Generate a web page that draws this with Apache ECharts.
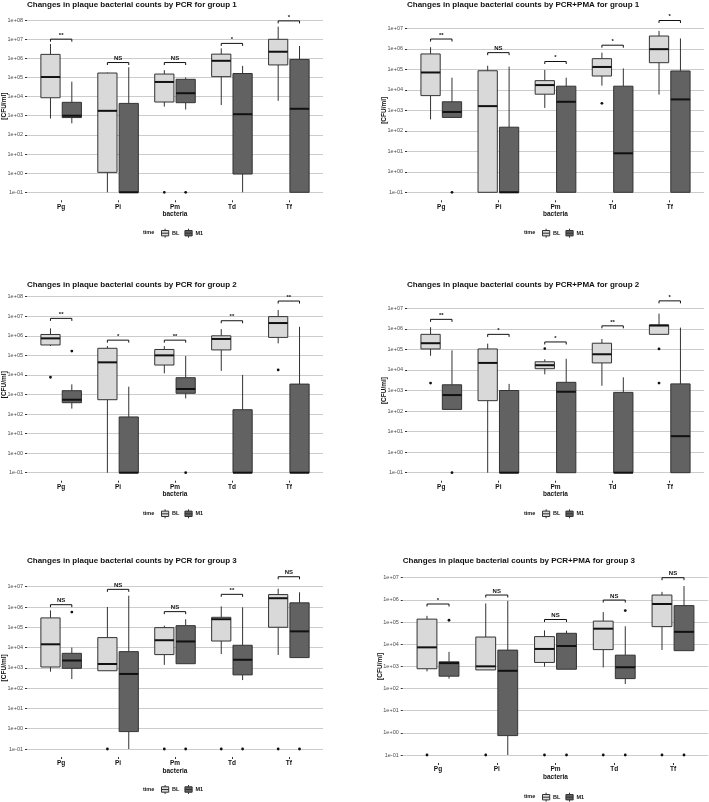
<!DOCTYPE html>
<html><head><meta charset="utf-8">
<script src="https://cdn.jsdelivr.net/npm/echarts@6/dist/echarts.min.js"></script>
<style>html,body{margin:0;padding:0;background:#fff}#chart{width:709px;height:802px}</style>
</head><body><div id="chart"></div>
<script>
// ---------------- data ----------------
const categories = ['Pg', 'Pi', 'Pm', 'Td', 'Tf'];
const timeLevels = ['BL', 'M1'];
const panelTitles = [
  'Changes in plaque bacterial counts by PCR for group 1',
  'Changes in plaque bacterial counts by PCR+PMA for group 1',
  'Changes in plaque bacterial counts by PCR for group 2',
  'Changes in plaque bacterial counts by PCR+PMA for group 2',
  'Changes in plaque bacterial counts by PCR for group 3',
  'Changes in plaque bacterial counts by PCR+PMA for group 3'
];
const yAxisTitle = '[CFU/ml]';
const xAxisTitle = 'bacteria';
const legendTitle = 'time';

// box statistics per category: [min(whisker), Q1, median, Q3, max(whisker)]
const pcrG1BL = [[720, 8700, 1.05e5, 1.6e6, 5.6e6], [0.1, 1.1, 1800, 1.7e5, 1.8e5], [3000, 5200, 5.8e4, 1.5e5, 2.4e5], [3600, 1.1e5, 7.4e5, 1.65e6, 3.3e6], [6000, 4.5e5, 2.2e6, 9.8e6, 4.5e7]];
const pcrG1M1 = [[400, 800, 1000, 5000, 6e4], [0.1, 0.1, 0.1, 4400, 3.4e5], [2100, 4800, 1.5e4, 8e4, 1e5], [0.1, 0.9, 1200, 1.6e5, 4e5], [0.1, 0.1, 2300, 8.7e5, 4.4e6]];
const pcrG1Out = [[2, 0, 0.1], [2, 1, 0.1]]; // [category, time, value]
const pcrG1SigY = [1e7, 6e5, 6e5, 6e6, 9e7];
const pcrG1Sig = ['**', 'NS', 'NS', '*', '*'];

const pmaG1BL = [[360, 5200, 7e4, 5.6e5, 1.2e6], [0.1, 0.1, 1600, 8.5e4, 1.5e5], [1300, 6100, 1.7e4, 2.8e4, 9.3e4], [1.6e4, 4.7e4, 1.3e5, 3.3e5, 6.5e5], [5800, 2.1e5, 9.6e5, 4.2e6, 7.4e6]];
const pmaG1M1 = [[420, 450, 830, 2600, 3.9e4], [0.1, 0.1, 0.1, 150, 1.35e5], [0.1, 0.1, 2600, 1.5e4, 3.9e4], [0.1, 0.1, 8, 1.5e4, 1.1e5], [0.1, 0.1, 3400, 8.3e4, 3.2e6]];
const pmaG1Out = [[0, 1, 0.1], [3, 0, 2200]];
const pmaG1SigY = [3e6, 6.5e5, 2.4e5, 1.5e6, 2.4e7];
const pmaG1Sig = ['**', 'NS', '*', '*', '*'];

const pcrG2BL = [[3e5, 3.4e5, 7.4e5, 1.17e6, 2.4e6], [0.1, 540, 4.4e4, 2.3e5, 3e5], [1.2e4, 3.2e4, 1e5, 2e5, 3e5], [1.6e4, 1.9e5, 6.9e5, 1e6, 2.2e6], [4.1e5, 8.3e5, 4.5e6, 9.6e6, 2.1e7]];
const pcrG2M1 = [[190, 380, 540, 1560, 3300], [0.1, 0.1, 0.1, 71, 2500], [630, 1150, 1900, 7200, 9.3e4], [0.1, 0.1, 0.1, 166, 1e4], [0.1, 0.1, 0.1, 3400, 2.9e6]];
const pcrG2Out = [[0, 0, 7600], [0, 1, 1.65e5], [2, 1, 0.1], [4, 0, 1.8e4]];
const pcrG2SigY = [7.8e6, 6e5, 6e5, 5.9e6, 6e7];
const pcrG2Sig = ['**', '*', '**', '**', '**'];

const pmaG2BL = [[4.9e4, 1.05e5, 2e5, 5.4e5, 1.2e6], [0.1, 320, 2.2e4, 1.05e5, 1.9e5], [6100, 1.15e4, 1.7e4, 2.5e4, 3.3e4], [1700, 2.2e4, 5.8e4, 2e5, 3.2e5], [5.4e5, 5.4e5, 1.45e6, 1.55e6, 5.5e6]];
const pmaG2M1 = [[120, 120, 600, 1900, 9e4], [0.1, 0.1, 0.1, 1000, 2100], [0.1, 0.1, 870, 2500, 3.5e4], [0.1, 0.1, 0.1, 810, 4400], [0.1, 0.1, 6, 2100, 1.15e6]];
const pmaG2Out = [[0, 0, 2300], [0, 1, 0.1], [2, 0, 1.1e5], [4, 0, 1.05e5], [4, 0, 2300]];
const pmaG2SigY = [2.9e6, 5.4e5, 2.3e5, 1.4e6, 2.3e7];
const pmaG2Sig = ['**', '*', '*', '**', '*'];

const pcrG3BL = [[650, 1100, 1.45e4, 2.9e5, 6.8e5], [720, 720, 1550, 3.1e4, 1e6], [1400, 4500, 2.3e4, 9.6e4, 1.2e5], [4800, 2.1e4, 2.5e5, 3.1e5, 1.07e6], [4300, 1e5, 2.7e6, 4.1e6, 8e6]];
const pcrG3M1 = [[280, 950, 2300, 5200, 1e4], [0.1, 0.72, 500, 6300, 3.6e6], [1600, 1600, 2e4, 1.2e5, 2.5e5], [250, 450, 2500, 1.3e4, 9.6e5], [3200, 3200, 6.3e4, 1.6e6, 5.3e6]];
const pcrG3Out = [[0, 1, 5.6e5], [1, 0, 0.1], [2, 0, 0.1], [2, 1, 0.1], [3, 0, 0.1], [3, 1, 0.1], [4, 0, 0.1], [4, 1, 0.1]];
const pcrG3SigY = [1.3e6, 7.4e6, 5.9e5, 4.2e6, 3.1e7];
const pcrG3Sig = ['NS', 'NS', 'NS', '**', 'NS'];

const pmaG3BL = [[590, 780, 7200, 1.35e5, 1.9e5], [690, 690, 1000, 2.1e4, 6.9e5], [970, 1500, 6100, 2.2e4, 4.2e4], [890, 5700, 5e4, 1.1e5, 2.8e5], [5500, 6.2e4, 6.5e5, 1.65e6, 2.3e6]];
const pmaG3M1 = [[280, 360, 1400, 1600, 4500], [0.1, 0.75, 630, 5400, 9e5], [740, 740, 8300, 3.1e4, 4.1e4], [160, 280, 910, 3200, 6.4e4], [5100, 5100, 3.6e4, 5.5e5, 4.2e6]];
const pmaG3Out = [[0, 0, 0.1], [0, 1, 1.2e5], [1, 0, 0.1], [2, 0, 0.1], [2, 1, 0.1], [3, 0, 0.1], [3, 1, 3.3e5], [3, 1, 0.1], [4, 0, 0.1], [4, 1, 0.1]];
const pmaG3SigY = [6.5e5, 1.65e6, 1.3e5, 9.8e5, 1e7];
const pmaG3Sig = ['*', 'NS', 'NS', 'NS', 'NS'];

const panelBL = [pcrG1BL, pmaG1BL, pcrG2BL, pmaG2BL, pcrG3BL, pmaG3BL];
const panelM1 = [pcrG1M1, pmaG1M1, pcrG2M1, pmaG2M1, pcrG3M1, pmaG3M1];
const panelOut = [pcrG1Out, pmaG1Out, pcrG2Out, pmaG2Out, pcrG3Out, pmaG3Out];
const panelSigY = [pcrG1SigY, pmaG1SigY, pcrG2SigY, pmaG2SigY, pcrG3SigY, pmaG3SigY];
const panelSig = [pcrG1Sig, pmaG1Sig, pcrG2Sig, pmaG2Sig, pcrG3Sig, pmaG3Sig];
const panelYMax = [1e8, 1e7, 1e8, 1e7, 1e7, 1e7];

// ---------------- layout & style ----------------
const FONT = "'Liberation Sans', Arial, Helvetica, sans-serif";
const layout = [
  { left: 27, width: 296, top: 20, height: 172.3, titleTop: 0.5, timeLeft: 143, legendLeft: 161, legendMid: 232.7 },
  { left: 407, width: 297, top: 28.3, height: 164, titleTop: 0.3, timeLeft: 524, legendLeft: 542, legendMid: 232.7 },
  { left: 27, width: 296, top: 296.7, height: 176, titleTop: 280.3, timeLeft: 143, legendLeft: 161, legendMid: 513.3 },
  { left: 407, width: 297, top: 308.3, height: 164.4, titleTop: 280.3, timeLeft: 524, legendLeft: 542, legendMid: 513.3 },
  { left: 27, width: 296, top: 586.7, height: 162.3, titleTop: 556.7, timeLeft: 143, legendLeft: 161, legendMid: 789 },
  { left: 402.75, width: 305.5, top: 577.7, height: 177.3, titleTop: 557, timeLeft: 524, legendLeft: 542, legendMid: 796.7 }
];
const FILL = ['#d9d9d9', '#626262'];
const STROKE = '#333333';
const DODGE = [-0.1875, 0.1875];
const BOX_W = 0.3375;
const BOX_ICON = 'path://M4,0L4,2M0,2L8,2L8,8L0,8ZM0,5L8,5M4,8L4,10';

function fmtSci(v) {
  const e = Math.round(Math.log10(v));
  const s = e < 0 ? '-' : '+';
  const a = Math.abs(e);
  return '1e' + s + (a < 10 ? '0' + a : a);
}

function boxRenderer(t) {
  return function (params, api) {
    const x = api.value(0) + DODGE[t];
    const vMed = api.value(3);
    const yMin = api.coord([x, api.value(1)])[1];
    const yQ1 = api.coord([x, api.value(2)])[1];
    const yMed = api.coord([x, vMed])[1];
    const yQ3 = api.coord([x, api.value(4)])[1];
    const yMax = api.coord([x, api.value(5)])[1];
    const xc = api.coord([x, vMed])[0];
    const xl = api.coord([x - BOX_W / 2, vMed])[0];
    const xr = api.coord([x + BOX_W / 2, vMed])[0];
    return {
      type: 'group', children: [
        { type: 'line', shape: { x1: xc, y1: yMax, x2: xc, y2: yQ3 }, style: { stroke: STROKE, lineWidth: 1 } },
        { type: 'line', shape: { x1: xc, y1: yQ1, x2: xc, y2: yMin }, style: { stroke: STROKE, lineWidth: 1 } },
        { type: 'rect', shape: { x: xl, y: yQ3, width: xr - xl, height: Math.max(yQ1 - yQ3, 0) }, style: { fill: FILL[t], stroke: STROKE, lineWidth: 1 } },
        { type: 'line', shape: { x1: xl, y1: yMed, x2: xr, y2: yMed }, style: { stroke: '#111', lineWidth: 2 } }
      ]
    };
  };
}

function outlierRenderer(params, api) {
  const t = api.value(1);
  const p = api.coord([api.value(0) + DODGE[t], api.value(2)]);
  return { type: 'circle', shape: { cx: p[0], cy: p[1], r: 1.4 }, style: { fill: '#111' } };
}

function sigRenderer(labels) {
  return function (params, api) {
    const c = api.value(0);
    const v = api.value(1);
    const pl = api.coord([c + DODGE[0], v]);
    const pr = api.coord([c + DODGE[1], v]);
    const tip = 2.5;
    return {
      type: 'group', children: [
        { type: 'polyline', shape: { points: [[pl[0], pl[1] + tip], [pl[0], pl[1]], [pr[0], pr[1]], [pr[0], pr[1] + tip]] }, style: { stroke: '#111', lineWidth: 1, fill: null } },
        { type: 'text', x: (pl[0] + pr[0]) / 2, y: pl[1] - 1, style: { text: labels[params.dataIndex], fontSize: 6, fontWeight: 'bold', fontFamily: FONT, fill: '#111', align: 'center', verticalAlign: 'bottom' } }
      ]
    };
  };
}

const grids = [], xAxes = [], yAxes = [], series = [], titles = [], legends = [];
layout.forEach((L, p) => {
  grids.push({ left: L.left, top: L.top, width: L.width, height: L.height, outerBoundsMode: 'none', containLabel: false });
  xAxes.push({
    type: 'value', gridIndex: p, min: -0.6, max: 4.6, offset: 8, position: 'bottom',
    axisLine: { show: false, onZero: false }, splitLine: { show: false },
    axisTick: { show: true, length: 2, customValues: categories.map((c, i) => i), lineStyle: { color: STROKE, width: 1 } },
    axisLabel: { customValues: categories.map((c, i) => i), formatter: v => categories[Math.round(v)], margin: 3, fontSize: 6.5, fontWeight: 'bold', color: '#111', fontFamily: FONT },
    name: xAxisTitle, nameLocation: 'middle', nameGap: 10.5, nameMoveOverlap: false,
    nameTextStyle: { fontSize: 6.5, fontWeight: 'bold', color: '#111', fontFamily: FONT }
  });
  yAxes.push({
    type: 'log', logBase: 10, gridIndex: p, min: 0.1, max: panelYMax[p], position: 'left',
    axisLine: { show: false, onZero: false },
    axisTick: { show: true, length: 2, lineStyle: { color: STROKE, width: 1 } },
    axisLabel: { formatter: fmtSci, fontSize: 5.5, color: '#4d4d4d', margin: 4, fontFamily: FONT },
    splitLine: { show: true, lineStyle: { color: '#cccccc', width: 1 } },
    name: yAxisTitle, nameLocation: 'middle', nameRotate: 90, nameGap: 19.5, nameMoveOverlap: false,
    nameTextStyle: { fontSize: 6.5, fontWeight: 'bold', color: '#111', fontFamily: FONT }
  });
  [panelBL[p], panelM1[p]].forEach((stats, t) => {
    series.push({
      type: 'custom', name: timeLevels[t], xAxisIndex: p, yAxisIndex: p,
      itemStyle: { color: FILL[t], borderColor: STROKE, borderWidth: 1 },
      renderItem: boxRenderer(t),
      encode: { x: 0, y: [1, 2, 3, 4, 5] },
      data: stats.map((s, i) => [i].concat(s)), z: 3
    });
  });
  series.push({
    type: 'custom', name: 'outliers', xAxisIndex: p, yAxisIndex: p,
    renderItem: outlierRenderer, encode: { x: 0, y: 2 },
    data: panelOut[p], z: 4
  });
  series.push({
    type: 'custom', name: 'signif', xAxisIndex: p, yAxisIndex: p,
    renderItem: sigRenderer(panelSig[p]), encode: { x: 0, y: 1 },
    data: panelSigY[p].map((v, i) => [i, v]), z: 4
  });
  titles.push({
    text: panelTitles[p], left: L.left, top: L.titleTop, padding: 0,
    textStyle: { fontSize: 8, fontWeight: 'bold', color: '#111', fontFamily: FONT, lineHeight: 8 }
  });
  titles.push({
    text: legendTitle, left: L.timeLeft, top: L.legendMid - 2.75, padding: 0,
    textStyle: { fontSize: 5.5, fontWeight: 'bold', color: '#111', fontFamily: FONT, lineHeight: 5.5 }
  });
  legends.push({
    left: L.legendLeft, top: L.legendMid - 4.5, padding: 0, itemWidth: 8, itemHeight: 9, itemGap: 5,
    selectedMode: false, orient: 'horizontal',
    data: timeLevels.map(t => ({ name: t, icon: BOX_ICON })),
    itemStyle: { borderColor: STROKE, borderWidth: 1 },
    textStyle: { fontSize: 5.5, fontWeight: 'bold', color: '#111', fontFamily: FONT, padding: [0, 0, 0, -2] }
  });
});

const chart = echarts.init(document.getElementById('chart'), null, { renderer: 'canvas', devicePixelRatio: 1 });
chart.setOption({
  animation: false,
  backgroundColor: '#ffffff',
  title: titles, legend: legends, grid: grids, xAxis: xAxes, yAxis: yAxes, series: series
});
</script></body></html>
